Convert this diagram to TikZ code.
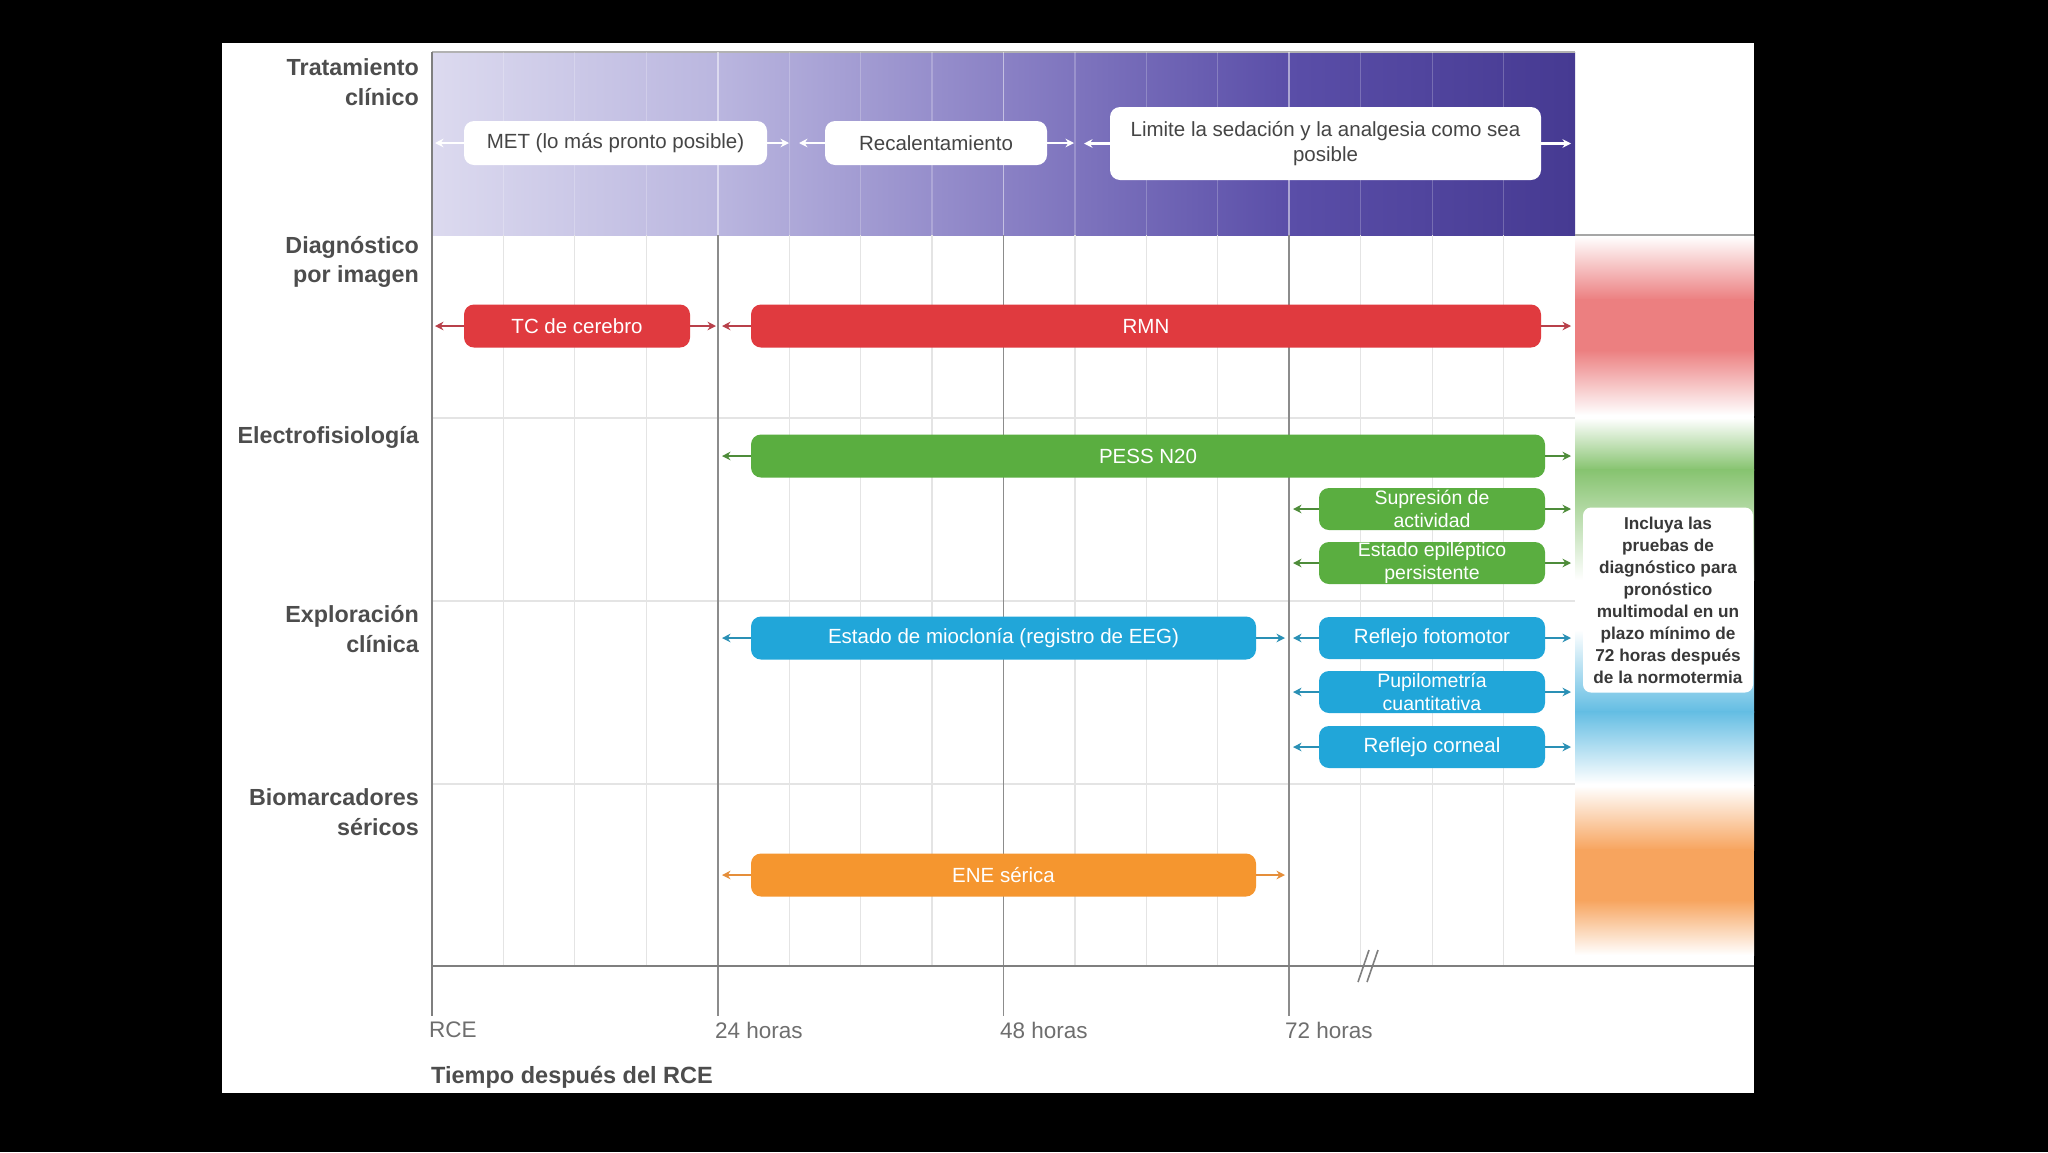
\documentclass[tikz,border=0pt]{standalone}
\usepackage{fontspec}
\setmainfont{Liberation Sans}
\usetikzlibrary{arrows.meta}
\definecolor{rowtxt}{HTML}{4D4D4D}
\definecolor{axtxt}{HTML}{6E6E6E}
\definecolor{axline}{HTML}{7F7F7F}
\definecolor{gridc}{HTML}{E4E4E4}
\definecolor{majc}{HTML}{8C8C8C}
\definecolor{pu0}{HTML}{DCDAEF}
\definecolor{pu1}{HTML}{BAB6DF}
\definecolor{pu2}{HTML}{8A81C5}
\definecolor{pu3}{HTML}{5A4EA8}
\definecolor{pu4}{HTML}{463A92}
\definecolor{cred}{HTML}{E03A3F}
\definecolor{cgreen}{HTML}{5AAE40}
\definecolor{cblue}{HTML}{21A6D9}
\definecolor{corange}{HTML}{F5962F}
\definecolor{ared}{HTML}{B8404A}
\definecolor{agreen}{HTML}{4E8C3A}
\definecolor{ablue}{HTML}{2A90B5}
\definecolor{aorange}{HTML}{E58E3A}
\definecolor{gred}{HTML}{EC7F80}
\definecolor{ggreen}{HTML}{86C36F}
\definecolor{gblue}{HTML}{63BDE3}
\definecolor{gorange}{HTML}{F7A45E}
\definecolor{boxtxt}{HTML}{454545}
\definecolor{infotxt}{HTML}{383838}
\begin{document}
\begin{tikzpicture}[x=1pt,y=-1pt,
  rowlab/.style={anchor=east, align=right, text=rowtxt, font=\fontsize{23.3}{29.5}\selectfont\bfseries, inner sep=0pt},
  axlab/.style={anchor=west, text=axtxt, font=\fontsize{22.5}{26}\selectfont, inner sep=0pt},
  bar/.style={rounded corners=10pt, minimum height=43pt, inner sep=0pt, align=center, text=white, font=\fontsize{20.5}{22}\selectfont},
  tbox/.style={bar, fill=white, text=boxtxt, minimum height=44pt},
  rbar/.style={bar, fill=cred},
  gbar/.style={bar, fill=cgreen},
  bbar/.style={bar, fill=cblue},
  obar/.style={bar, fill=corange},
  sbar/.style={minimum width=226pt, minimum height=42pt},
  twol/.style={font=\fontsize{19.5}{22.5}\selectfont},
  arr/.style={-{Stealth[length=8.5pt,width=8.5pt]}, line width=2.3pt},
  minorline/.style={gridc, line width=1.2pt},
  majorline/.style={majc, line width=1.6pt}
]
\useasboundingbox (0,0) rectangle (2048,1152);
\fill[black] (0,0) rectangle (2048,1152);
\fill[white] (222,43) rectangle (1754,1093);

% purple band
\shade[left color=pu0, right color=pu1] (432,52) rectangle (718.5,235);
\shade[left color=pu1, right color=pu2] (717.75,52) rectangle (1004,235);
\shade[left color=pu2, right color=pu3] (1003.5,52) rectangle (1290,235);
\shade[left color=pu3, right color=pu4] (1289.25,52) rectangle (1575,235);
\draw[gray!60, line width=1.2pt] (432,52) -- (1575,52);

% right gradient column
\shade[top color=white, bottom color=gred] (1575,236) rectangle (1754,300);
\fill[gred] (1575,299) rectangle (1754,351);
\shade[top color=gred, bottom color=white] (1575,350) rectangle (1754,415);
\shade[top color=white, bottom color=ggreen] (1575,418) rectangle (1754,470);
\shade[top color=ggreen, bottom color=white] (1575,469) rectangle (1754,580);
\shade[top color=white, bottom color=gblue] (1575,630) rectangle (1754,712);
\shade[top color=gblue, bottom color=white] (1575,711) rectangle (1754,784);
\shade[top color=white, bottom color=gorange] (1575,786) rectangle (1754,850);
\fill[gorange] (1575,849) rectangle (1754,901);
\shade[top color=gorange, bottom color=white] (1575,900) rectangle (1754,955);
\draw[gray!70, line width=1.5pt] (1575,235) -- (1754,235);

% grid
\foreach \k in {1,2,3,5,6,7,9,10,11,13,14,15} {
  \draw[minorline] ({432+\k*71.44},235) -- ({432+\k*71.44},966);
  \draw[white, opacity=0.22, line width=1.2pt] ({432+\k*71.44},52) -- ({432+\k*71.44},235);
}
\foreach \y in {418,601,784} \draw[minorline] (432,\y) -- (1575,\y);
\foreach \x in {717.75,1003.5,1289.25} {
  \draw[majorline] (\x,235) -- (\x,1016);
  \draw[white, opacity=0.5, line width=1.6pt] (\x,52) -- (\x,235);
}
\draw[axline, line width=2pt] (432,52) -- (432,1016);
\draw[axline, line width=2.5pt] (432,966) -- (1754,966);
\draw[axline, line width=1.6pt] (1358,982) -- (1369,950) (1367,982) -- (1378,950);

% row labels
\node[rowlab] (l1) at (419,82) {Tratamiento\\clínico};
\node[rowlab] (l2) at (419,262) {Diagnóstico\\por imagen};
\node[rowlab] (l3) at (419,437) {Electrofisiología};
\node[rowlab] (l4) at (419,629) {Exploración\\clínica};
\node[rowlab] (l5) at (419,812) {Biomarcadores\\séricos};

% axis labels
\node[axlab] (t0) at (429,1030) {RCE};
\node[axlab] (t1) at (715,1030) {24 horas};
\node[axlab] (t2) at (1000,1030) {48 horas};
\node[axlab] (t3) at (1285,1030) {72 horas};
\node[anchor=west, inner sep=0pt, text=rowtxt, font=\fontsize{23.5}{26}\selectfont\bfseries] (xt) at (431,1077) {Tiempo después del RCE};

% treatment boxes
\node[tbox, minimum width=303pt] (met) at (615.5,143) {MET (lo más pronto posible)};
\node[tbox, minimum width=222pt] (rec) at (936,143) {Recalentamiento};
\node[tbox, minimum width=431pt, minimum height=73pt, font=\fontsize{20.5}{25}\selectfont] (lim) at (1325.5,143.5) {Limite la sedación y la analgesia como sea\\posible};

% bars
\node[rbar, minimum width=226pt] (tc) at (577,326) {TC de cerebro};
\node[rbar, minimum width=790pt] (rmn) at (1146,326) {RMN};
\node[gbar, minimum width=794pt] (pess) at (1148,456) {PESS N20};
\node[gbar, sbar, twol] (sup) at (1432,509) {Supresión de\\actividad};
\node[gbar, sbar, twol] (epi) at (1432,563) {Estado epiléptico\\persistente};
\node[bbar, minimum width=505pt] (mio) at (1003.5,638) {Estado de mioclonía (registro de EEG)};
\node[bbar, sbar] (foto) at (1432,638) {Reflejo fotomotor};
\node[bbar, sbar, twol] (pup) at (1432,692) {Pupilometría\\cuantitativa};
\node[bbar, sbar] (cor) at (1432,747) {Reflejo corneal};
\node[obar, minimum width=505pt] (ene) at (1003.5,875) {ENE sérica};

% arrow ends
\coordinate (metL) at (435,143); \coordinate (metR) at (789,143);
\coordinate (recL) at (799,143); \coordinate (recR) at (1074,143);
\coordinate (limL) at (1084,143.5); \coordinate (limR) at (1571,143.5);
\coordinate (tcL) at (435,326); \coordinate (tcR) at (716,326);
\coordinate (rmnL) at (722,326); \coordinate (rmnR) at (1571,326);
\coordinate (pessL) at (722,456); \coordinate (pessR) at (1571,456);
\coordinate (supL) at (1293,509); \coordinate (supR) at (1571,509);
\coordinate (epiL) at (1293,563); \coordinate (epiR) at (1571,563);
\coordinate (mioL) at (722,638); \coordinate (mioR) at (1285,638);
\coordinate (fotoL) at (1293,638); \coordinate (fotoR) at (1571,638);
\coordinate (pupL) at (1293,692); \coordinate (pupR) at (1571,692);
\coordinate (corL) at (1293,747); \coordinate (corR) at (1571,747);
\coordinate (eneL) at (722,875); \coordinate (eneR) at (1285,875);

\foreach \n in {met,rec,lim} {
  \draw[arr, white] (\n.west) -- (\n L);
  \draw[arr, white] (\n.east) -- (\n R);
}
\foreach \n in {tc,rmn} {
  \draw[arr, ared] (\n.west) -- (\n L);
  \draw[arr, ared] (\n.east) -- (\n R);
}
\foreach \n in {pess,sup,epi} {
  \draw[arr, agreen] (\n.west) -- (\n L);
  \draw[arr, agreen] (\n.east) -- (\n R);
}
\foreach \n in {mio,foto,pup,cor} {
  \draw[arr, ablue] (\n.west) -- (\n L);
  \draw[arr, ablue] (\n.east) -- (\n R);
}
\draw[arr, aorange] (ene.west) -- (eneL);
\draw[arr, aorange] (ene.east) -- (eneR);

% info box
\node[fill=white, rounded corners=8pt, minimum width=170pt, minimum height=185pt, inner sep=0pt, align=center, text=infotxt, font=\fontsize{17.2}{22}\selectfont\bfseries] (info) at (1668,600) {Incluya las\\pruebas de\\diagnóstico para\\pronóstico\\multimodal en un\\plazo mínimo de\\72 horas después\\de la normotermia};
\end{tikzpicture}
\end{document}
